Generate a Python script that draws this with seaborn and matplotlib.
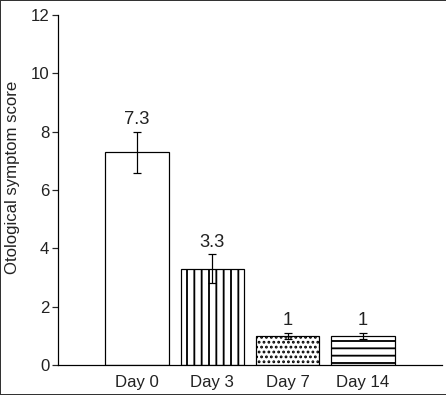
import numpy as np
import pandas as pd
import seaborn as sns
import matplotlib.pyplot as plt

days = ['Day 0', 'Day 3', 'Day 7', 'Day 14']
scores = [7.3, 3.3, 1.0, 1.0]
errors = [0.7, 0.5, 0.1, 0.1]
labels = ['7.3', '3.3', '1', '1']
hatches = ['', '||', '...', '--']

sns.set_style('ticks')
plt.rcParams['font.family'] = ['Liberation Sans', 'DejaVu Sans']
plt.rcParams['hatch.linewidth'] = 1.5

dpi = 88
fig = plt.figure(figsize=(447 / dpi, 395 / dpi), dpi=dpi)
fig.patch.set_edgecolor('#333333')
fig.patch.set_linewidth(1.5)
ax = fig.add_axes([58 / 447, 30 / 395, 384 / 447, 350 / 395])

df = pd.DataFrame({'day': days, 'score': scores})
sns.barplot(data=df, x='day', y='score', color='white', edgecolor='black',
            linewidth=1.0, width=0.84, errorbar=None, ax=ax)
for bar, h in zip(ax.patches, hatches):
    bar.set_facecolor('white')
    bar.set_hatch(h)

xpos = np.arange(len(days))
ax.errorbar(xpos, scores, yerr=errors, fmt='none', ecolor='black',
            elinewidth=1.0, capsize=3, capthick=1.0)
for x, y, e, t in zip(xpos, scores, errors, labels):
    ax.annotate(t, (x, y + e), xytext=(0, 3), textcoords='offset points',
                ha='center', va='bottom', fontsize=15, color='#222222')

ax.set_ylim(0, 12)
ax.set_yticks(range(0, 13, 2))
ax.set_xlim(-1.05, 4.05)
ax.set_xlabel('')
ax.set_ylabel('Otological symptom score', fontsize=13.7, color='#222222')
ax.yaxis.set_label_coords(-0.1, 0.535)
ax.tick_params(axis='y', length=5, width=1, labelsize=13.7, labelcolor='#222222', pad=2)
ax.tick_params(axis='x', length=0, labelsize=13.7, labelcolor='#222222', pad=8)
for s in ['top', 'right']:
    ax.spines[s].set_visible(False)
for s in ['left', 'bottom']:
    ax.spines[s].set_color('black')
    ax.spines[s].set_linewidth(1.0)

fig.savefig('out.png', dpi=dpi)
